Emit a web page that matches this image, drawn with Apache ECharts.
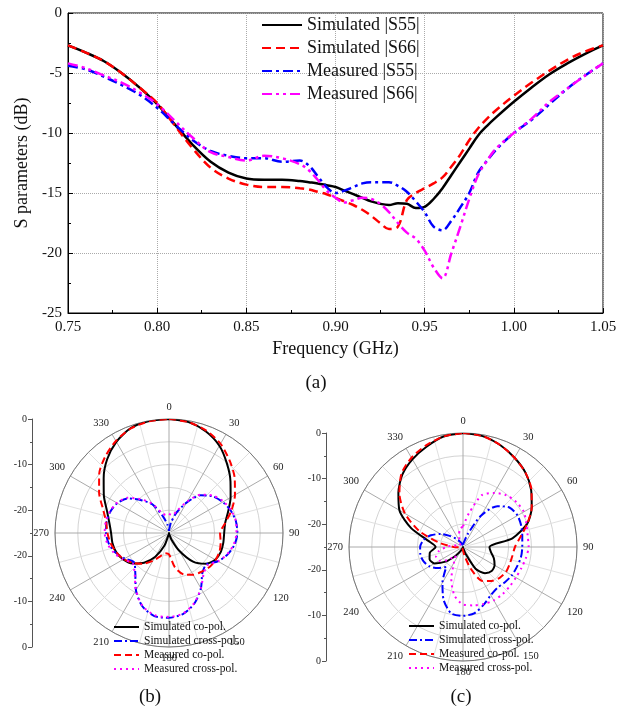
<!DOCTYPE html>
<html><head><meta charset="utf-8">
<script src="https://cdn.jsdelivr.net/npm/echarts/dist/echarts.min.js"></script>
<style>html,body{margin:0;padding:0;background:#fff}#c{width:630px;height:713px}</style>
</head><body><div id="c"></div>
<script>
const FONT = '"Liberation Serif","Times New Roman",serif';

// ---- (a) S-parameters ----
const freq = [0.75,0.76,0.77,0.78,0.79,0.80,0.81,0.82,0.83,0.84,0.85,0.86,0.87,0.88,0.885,0.89,0.895,0.90,0.905,0.91,0.915,0.92,0.925,0.93,0.935,0.94,0.945,0.95,0.955,0.96,0.965,0.97,0.975,0.98,0.985,0.99,1.00,1.01,1.02,1.03,1.04,1.05];
const simS55 = [-2.7,-3.3,-4.0,-5.0,-6.2,-7.6,-9.3,-11.0,-12.4,-13.3,-13.8,-13.9,-13.9,-14.0,-14.1,-14.2,-14.35,-14.5,-14.8,-15.1,-15.4,-15.7,-15.9,-16.0,-15.85,-15.9,-16.25,-16.15,-15.5,-14.6,-13.5,-12.4,-11.3,-10.2,-9.4,-8.7,-7.4,-6.2,-5.1,-4.2,-3.4,-2.7];
const simS66 = [-2.7,-3.3,-4.0,-5.0,-6.2,-7.5,-9.4,-11.3,-12.9,-13.8,-14.3,-14.5,-14.5,-14.6,-14.7,-14.9,-15.1,-15.4,-15.7,-16.0,-16.4,-16.9,-17.5,-18.0,-17.8,-15.6,-15.0,-14.6,-14.2,-13.7,-12.8,-11.8,-10.6,-9.6,-8.8,-8.1,-6.9,-5.8,-4.8,-3.9,-3.2,-2.7];
const measS55 = [-4.4,-4.7,-5.3,-6.0,-6.8,-7.9,-9.3,-10.6,-11.5,-11.9,-12.1,-12.1,-12.4,-12.3,-12.7,-13.6,-14.5,-15.0,-14.8,-14.5,-14.2,-14.1,-14.1,-14.1,-14.4,-14.9,-15.7,-16.6,-17.8,-18.1,-17.3,-16.2,-15.0,-13.3,-12.3,-11.4,-10.0,-8.9,-7.6,-6.3,-5.2,-4.2];
const measS66 = [-4.2,-4.6,-5.2,-5.8,-6.6,-7.6,-9.0,-10.4,-11.6,-12.0,-12.3,-11.9,-12.1,-12.6,-13.1,-13.9,-14.8,-15.4,-15.8,-15.6,-15.4,-15.5,-15.9,-16.6,-17.5,-18.3,-18.8,-19.8,-21.2,-22.1,-20.0,-17.8,-15.5,-13.5,-12.3,-11.3,-10.0,-8.8,-7.4,-6.3,-5.2,-4.2];
const sNames = ['Simulated |S55|','Simulated |S66|','Measured |S55|','Measured |S66|'];

// ---- (b),(c) radiation patterns (dB) at angles ----
const polarAngles = [0,10,20,30,40,50,60,70,80,90,100,110,120,130,140,150,160,170,180,190,200,210,220,230,240,250,260,270,280,290,300,310,320,330,340,350];
const bSimCo  = [0,-0.3,-1.3,-2.9,-5.2,-7.4,-9.4,-11.2,-12.5,-12.9,-12.9,-12.9,-13.3,-14.5,-16.8,-20.5,-23.5,-24.8,-25,-24.8,-22.0,-19.0,-16.5,-14.6,-13.4,-12.7,-12.4,-12.3,-11.7,-10.5,-8.5,-6.3,-3.9,-1.9,-0.5,-0.05];
const bSimX   = [-24.5,-22.8,-20.3,-17.3,-14.2,-12.5,-11.4,-10.6,-10.1,-10.0,-10.4,-11.3,-12.6,-14.3,-13.6,-11.0,-8.6,-7.0,-6.4,-6.5,-7.9,-10.5,-13.5,-15.0,-13.8,-12.5,-11.6,-11.2,-11.1,-11.3,-11.9,-13.2,-15.6,-17.8,-21.1,-23.2];
const bMeasCo = [0,-0.3,-1.1,-2.4,-4.3,-6.2,-8.3,-10.4,-12.5,-13.8,-13.5,-13.2,-13.2,-13.4,-13.9,-14.4,-15.3,-17.3,-20.3,-20.5,-19.6,-18.0,-16.2,-14.8,-13.5,-12.7,-12.0,-11.5,-11.0,-9.6,-7.3,-5.0,-3.2,-1.7,-0.6,-0.1];
const bMeasX  = [-20.8,-21.0,-19.8,-17.0,-14.0,-12.3,-11.2,-10.5,-10.1,-10.2,-10.6,-11.4,-12.6,-14.0,-13.2,-11.0,-8.7,-7.1,-6.6,-6.7,-8.0,-10.5,-13.3,-14.6,-13.4,-12.2,-11.3,-10.9,-10.9,-11.2,-11.8,-13.0,-15.3,-17.6,-20.2,-21.0];
const cSimCo  = [0,-0.3,-1.2,-2.4,-3.7,-5.5,-7.6,-10.0,-14.0,-19.2,-18.8,-17.8,-17.0,-16.8,-17.5,-19.5,-23.5,-24.8,-25,-24.9,-24.8,-24.0,-22.5,-20.0,-17.8,-17.2,-17.6,-19.0,-17.3,-12.9,-8.9,-6.5,-4.3,-2.8,-1.6,-0.4];
const cSimX   = [-24.5,-24.0,-22.0,-17.0,-13.3,-11.6,-11.2,-11.4,-11.8,-12.0,-12.1,-12.4,-12.6,-13.0,-13.3,-12.8,-11.6,-10.3,-9.9,-10.2,-12.6,-16.0,-19.3,-17.8,-16.5,-15.8,-15.5,-15.6,-16.2,-17.5,-19.3,-21.2,-22.6,-23.6,-24.2,-24.6];
const cMeasCo = [0,-0.3,-1.2,-2.4,-3.7,-5.4,-7.6,-10.0,-12.2,-13.6,-14.0,-14.1,-14.1,-14.5,-15.3,-16.4,-19.8,-23.0,-24.2,-24.5,-24.6,-24.7,-24.7,-24.7,-24.7,-24.6,-24.4,-23.0,-19.8,-14.8,-10.3,-6.8,-4.0,-2.4,-1.3,-0.4];
const cMeasX  = [-20.5,-17.5,-12.9,-11.3,-10.2,-9.7,-9.6,-10.2,-10.6,-10.6,-11.0,-11.4,-11.6,-11.6,-11.5,-11.5,-11.7,-12.0,-12.4,-14.2,-17.5,-21.0,-22.5,-20.5,-19.0,-18.7,-19.6,-21.3,-23.0,-24.0,-24.3,-24.3,-24.0,-23.5,-22.5,-21.0];
const pNames = ['Simulated co-pol.','Simulated cross-pol.','Measured co-pol.','Measured cross-pol.'];

const chart = echarts.init(document.getElementById('c'), null, {renderer:'canvas'});
const pair = (ys) => freq.map((f,i)=>[f, ys[i]]);
const loop = (vals) => { const d = vals.map((v,i)=>[v, polarAngles[i]]); d.push([vals[0],360]); return d; };

const topStyles = [
  {color:'#000000', type:'solid'},
  {color:'#ff0000', type:[9,5]},
  {color:'#0000ff', type:[10,4,3,4]},
  {color:'#ff00ff', type:[10,4,3,4,3,4]}
];
const polStyles = [
  {color:'#000000', type:'solid'},
  {color:'#0000ff', type:[8,3,2,3]},
  {color:'#ff0000', type:[7,4]},
  {color:'#ff00ff', type:[2,4]}
];

const series = [];
[simS55, simS66, measS55, measS66].forEach((ys,i)=>{
  series.push({name:sNames[i], type:'line', xAxisIndex:0, yAxisIndex:0, data:pair(ys), symbol:'none', showSymbol:false, smooth:0.35,
    lineStyle:{color:topStyles[i].color, type:topStyles[i].type, width:2.5}, itemStyle:{color:topStyles[i].color}, z:3});
});
[[bSimCo,bSimX,bMeasCo,bMeasX],[cSimCo,cSimX,cMeasCo,cMeasX]].forEach((set,pi)=>{
  set.forEach((vals,i)=>{
    series.push({name:pNames[i], type:'line', coordinateSystem:'polar', polarIndex:pi, data:loop(vals), symbol:'none', showSymbol:false, smooth:0.25,
      lineStyle:{color:polStyles[i].color, type:polStyles[i].type, width:2}, itemStyle:{color:polStyles[i].color}, z:3});
  });
});

function radialAxis(gi){
  return {type:'value', gridIndex:gi, min:0, max:50, interval:10,
    axisLine:{show:true, lineStyle:{color:'#555', width:1}},
    axisTick:{show:true, inside:false, length:4, lineStyle:{color:'#555'}},
    minorTick:{show:true, splitNumber:2, length:2, lineStyle:{color:'#555'}},
    splitLine:{show:false},
    axisLabel:{show:true, margin:5, fontFamily:FONT, fontSize:10, color:'#222',
      formatter:(v)=>{ const d = 25-Math.abs(v-25); return d===0?'0':String(-d); }}
  };
}
function angleAxis(pi){
  return {polarIndex:pi, type:'value', min:0, max:360, interval:30, startAngle:90, clockwise:true,
    axisLine:{show:true, lineStyle:{color:'#777', width:1}},
    axisTick:{show:false},
    minorTick:{show:false, splitNumber:2},
    splitLine:{show:true, lineStyle:{color:'#aaa', width:1}},
    minorSplitLine:{show:true, lineStyle:{color:'#e0e0e0', width:1}},
    axisLabel:{margin:6, fontFamily:FONT, fontSize:10.5, color:'#222', formatter:(v)=> v===360?'':String(v)}
  };
}
function radiusAxis(pi){
  return {polarIndex:pi, type:'value', min:-25, max:0, interval:5,
    axisLine:{show:false}, axisTick:{show:false}, axisLabel:{show:false},
    splitLine:{show:true, lineStyle:{color:'#d4d4d4', width:1}}
  };
}
const noSym = {color:'rgba(0,0,0,0)', borderColor:'rgba(0,0,0,0)', borderWidth:0};
function polLegend(left, top){
  return {data:pNames, orient:'vertical', left:left, top:top, padding:0, itemGap:2, itemWidth:25, itemHeight:10,
    itemStyle:noSym,
    textStyle:{fontFamily:FONT, fontSize:11.5, lineHeight:12, color:'#111'}, selectedMode:false, z:10};
}

const option = {
  animation:false,
  backgroundColor:'#ffffff',
  grid:[
    {left:68, top:13, width:535, height:300, show:true, borderColor:'#000', borderWidth:1, backgroundColor:'transparent'},
    {left:32, top:419, width:1, height:228},
    {left:326, top:433, width:1, height:228}
  ],
  xAxis:[
    {type:'value', gridIndex:0, min:0.75, max:1.05, interval:0.05,
      name:'Frequency (GHz)', nameLocation:'middle', nameGap:27,
      nameTextStyle:{fontFamily:FONT, fontSize:18, color:'#111'},
      axisLine:{show:true, onZero:false, lineStyle:{color:'#000', width:1}},
      axisTick:{show:true, inside:true, length:5, lineStyle:{color:'#000'}},
      minorTick:{show:true, splitNumber:2, length:3, lineStyle:{color:'#000'}},
      splitLine:{show:true, lineStyle:{color:'#aaa', type:'dotted', width:1}},
      axisLabel:{margin:7, fontFamily:FONT, fontSize:15, color:'#111', formatter:(v)=>v.toFixed(2)}},
    {type:'value', gridIndex:1, show:false, min:0, max:1},
    {type:'value', gridIndex:2, show:false, min:0, max:1}
  ],
  yAxis:[
    {type:'value', gridIndex:0, min:-25, max:0, interval:5,
      name:'S parameters (dB)', nameLocation:'middle', nameGap:30, nameRotate:90,
      nameTextStyle:{fontFamily:FONT, fontSize:18, color:'#111'},
      axisLine:{show:true, onZero:false, lineStyle:{color:'#000', width:1}},
      axisTick:{show:true, inside:true, length:5, lineStyle:{color:'#000'}},
      minorTick:{show:true, splitNumber:2, length:3, lineStyle:{color:'#000'}},
      splitLine:{show:true, lineStyle:{color:'#aaa', type:'dotted', width:1}},
      axisLabel:{margin:6, fontFamily:FONT, fontSize:15, color:'#111'}},
    radialAxis(1),
    radialAxis(2)
  ],
  polar:[
    {center:[169,533], radius:114},
    {center:[463,547], radius:114}
  ],
  angleAxis:[angleAxis(0), angleAxis(1)],
  radiusAxis:[radiusAxis(0), radiusAxis(1)],
  legend:[
    {data:sNames, orient:'vertical', left:261, top:16, padding:0, itemGap:5, itemWidth:40, itemHeight:14,
      itemStyle:noSym,
      textStyle:{fontFamily:FONT, fontSize:18, lineHeight:18, color:'#111'}, selectedMode:false},
    polLegend(113, 621),
    polLegend(408, 620)
  ],
  graphic:[
    {type:'text', style:{text:'(a)', x:316, y:383, fill:'#111', font:'19px '+FONT, textAlign:'center', textVerticalAlign:'middle'}},
    {type:'text', style:{text:'(b)', x:150, y:697, fill:'#111', font:'19px '+FONT, textAlign:'center', textVerticalAlign:'middle'}},
    {type:'text', style:{text:'(c)', x:461, y:697, fill:'#111', font:'19px '+FONT, textAlign:'center', textVerticalAlign:'middle'}}
  ],
  series:series
};
chart.setOption(option);
</script></body></html>
